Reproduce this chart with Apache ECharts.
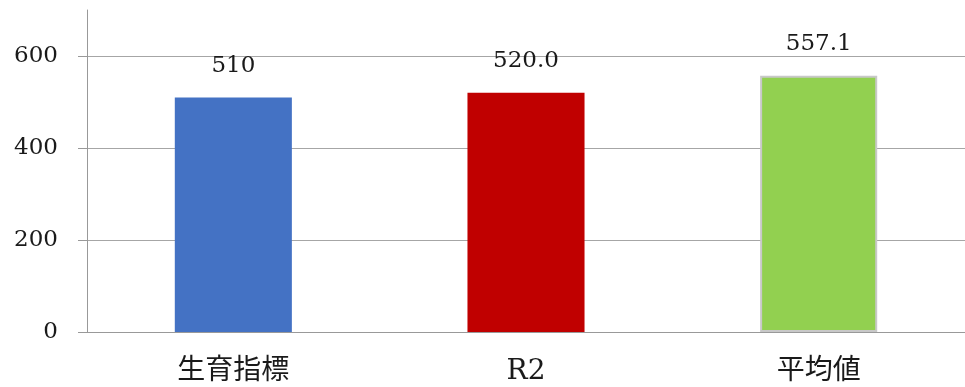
<!DOCTYPE html>
<html>
<head>
<meta charset="utf-8">
<script src="https://cdn.jsdelivr.net/npm/echarts@6/dist/echarts.min.js"></script>
<style>
  html, body { margin: 0; padding: 0; background: #fff; }
  #chart { width: 965px; height: 387px; }
</style>
</head>
<body>
<div id="chart"></div>
<script>
// Categories and their values
const categories = ['生育指標', 'R2', '平均値'];
const values = [510, 520.0, 557.1];
const valueLabels = ['510', '520.0', '557.1'];
const barColors = ['#4472c4', '#c00000', '#92d050'];
const yTicks = [0, 200, 400, 600];

const FONT = '"DejaVu Serif", "Noto Sans CJK JP", serif';

const chart = echarts.init(document.getElementById('chart'), null, { renderer: 'canvas' });

chart.setOption({
  animation: false,
  backgroundColor: '#ffffff',
  grid: { left: 87, right: -3, top: 10, bottom: 55, containLabel: false },
  xAxis: {
    type: 'category',
    data: categories,
    axisLine: { show: true, lineStyle: { color: '#999999', width: 1 } },
    axisTick: { show: false },
    axisLabel: { margin: 26, fontFamily: FONT, fontSize: 28, color: '#1a1a1a' }
  },
  yAxis: {
    type: 'value',
    min: 0,
    max: 700,
    interval: 200,
    axisLine: { show: true, lineStyle: { color: '#999999', width: 1 } },
    axisTick: {
      show: true, length: 9, inside: false,
      customValues: yTicks,
      lineStyle: { color: '#999999' }
    },
    axisLabel: {
      customValues: yTicks,
      margin: 29, fontFamily: FONT, fontSize: 23, color: '#1a1a1a'
    },
    splitLine: { show: true, lineStyle: { color: '#a6a6a6', width: 1 } }
  },
  series: [{
    type: 'bar',
    barWidth: '40%',
    data: values.map((v, i) => ({
      value: v,
      itemStyle: i === 2
        ? { color: barColors[i], borderColor: '#c8c8c8', borderWidth: 2 }
        : { color: barColors[i] }
    })),
    label: {
      show: true,
      position: 'top',
      distance: 20,
      fontFamily: FONT,
      fontSize: 23,
      color: '#1a1a1a',
      formatter: p => valueLabels[p.dataIndex]
    }
  }]
});
</script>
</body>
</html>
